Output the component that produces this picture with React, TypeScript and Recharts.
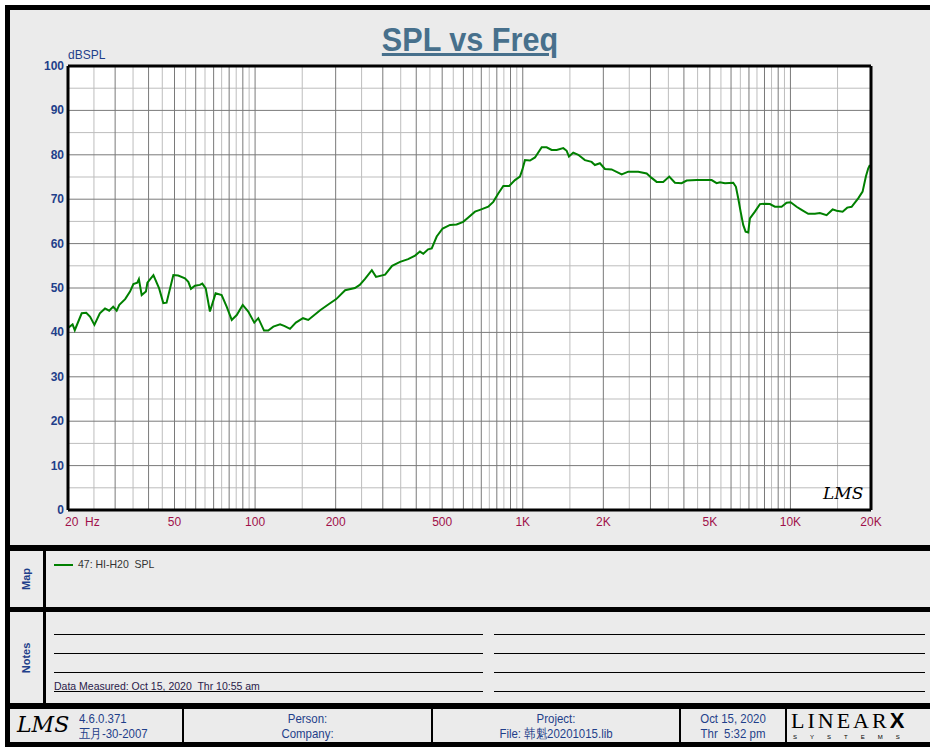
import React from 'react';
import { LineChart, Line, XAxis, YAxis, CartesianGrid, ReferenceLine } from 'recharts';

const freqHz = [
    20, 20.8, 21.2, 22.5, 23.4, 24.2, 25.1, 26.3, 27.5, 28.5, 29.5, 30.4, 31.1, 32.7, 34.1, 35.1,
    36.3, 36.8, 37.7, 39.1, 39.6, 41.7, 43.8, 45.4, 46.7, 49.5, 51.6, 54.7, 56.3, 57.6, 59.6, 62.2,
    63.5, 65.4, 67.8, 71.2, 75, 78.3, 81.8, 85.4, 89.9, 94.3, 99.3, 102.8, 108, 112, 117, 124,
    129, 135, 142, 151, 158, 175, 190, 201, 217, 236, 246, 257, 273, 283, 306, 325, 348, 373,
    396, 413, 425, 443, 457, 477, 502, 535, 566, 599, 626, 663, 692, 743, 776, 810, 846, 890,
    935, 976, 996, 1019, 1064, 1111, 1177, 1228, 1282, 1339, 1417, 1459, 1488, 1544, 1612, 1707, 1808, 1860,
    1942, 2028, 2148, 2342, 2478, 2700, 2904, 3030, 3164, 3348, 3526, 3703, 3922, 4096, 4462, 5078,
    5300, 5453, 5693, 6114, 6257, 6382, 6515, 6662, 6801, 6955, 7057, 7368, 7692, 8030, 8382, 8750,
    9268, 9676, 10016, 10546, 11009, 11652, 12344, 12887, 13649, 14374, 14878, 15666, 16300, 16926, 17916, 18606,
    19138, 19521, 19812,
];
const splDb = [
    41.0, 41.8, 40.5, 44.3, 44.4, 43.5, 41.7, 44.3, 45.4, 44.9, 45.8, 44.9, 46.2, 47.5, 49.2, 50.9,
    51.2, 52.0, 48.4, 49.2, 51.2, 52.9, 49.9, 46.6, 46.7, 52.9, 52.8, 52.2, 51.4, 49.8, 50.5, 50.7,
    51.0, 49.9, 44.7, 48.8, 48.4, 45.8, 42.8, 43.9, 46.2, 44.7, 42.2, 43.2, 40.4, 40.4, 41.3, 41.8,
    41.4, 40.8, 42.2, 43.2, 42.8, 45.0, 46.5, 47.5, 49.5, 50.0, 50.7, 52.0, 54.0, 52.5, 53.0, 55.0, 55.9, 56.5,
    57.3, 58.2, 57.7, 58.7, 58.9, 61.6, 63.4, 64.2, 64.3, 64.9, 65.9, 67.2, 67.6, 68.3, 69.4, 71.3, 73.0, 73.0,
    74.3, 75.1, 76.6, 78.8, 78.7, 79.4, 81.7, 81.7, 81.1, 81.1, 81.5, 80.9, 79.6, 80.5, 80.0, 78.8, 78.4, 77.7,
    78.1, 76.8, 76.7, 75.6, 76.2, 76.2, 75.8, 74.8, 73.9, 73.9, 75.1, 73.7, 73.6, 74.2, 74.3, 74.3,
    73.6, 73.8, 73.6, 73.7, 72.8, 70.2, 67.2, 64.2, 62.7, 62.5, 65.7, 67.2, 68.9, 69.0, 68.9, 68.3,
    68.3, 69.2, 69.3, 68.3, 67.6, 66.7, 66.7, 66.9, 66.4, 67.7, 67.4, 67.2, 68.1, 68.3, 70.2, 71.7,
    75.1, 76.9, 77.7,
];

const xTicks = [20, 50, 100, 200, 500, 1000, 2000, 5000, 10000, 20000];
const xTickLabels = ['20  Hz', '50', '100', '200', '500', '1K', '2K', '5K', '10K', '20K'];
const yTicks = [0, 10, 20, 30, 40, 50, 60, 70, 80, 90, 100];

const xMajorGrid = [30, 40, 50, 60, 70, 80, 90, 100, 200, 300, 400, 500, 600, 700, 800, 900,
    1000, 2000, 3000, 4000, 5000, 6000, 7000, 8000, 9000, 10000];
const xMinorGrid = [25, 35, 45, 55, 65, 75, 85, 95, 150, 250, 350, 450, 550, 650, 750, 850, 950,
    1500, 2500, 3500, 4500, 5500, 6500, 7500, 8500, 9500, 15000];
const yMajorGrid = [10, 20, 30, 40, 50, 60, 70, 80, 90];
const yMinorGrid = [5, 15, 25, 35, 45, 55, 65, 75, 85, 95];

const curve = freqHz.map((f, i) => ({ f, db: splDb[i] }));

const BLUE = '#1f3f8a';
const NARROW = '"Liberation Sans Narrow", "Liberation Sans", Arial, sans-serif';
const SANS = '"Liberation Sans", Arial, sans-serif';

const XTick = (props: any) => {
    const { x, y, index } = props;
    return (
        <text x={index === 0 ? x - 3 : x} y={y} dy={8} textAnchor={index === 0 ? 'start' : 'middle'}
            fill="#a0104a" fontSize={12} fontFamily={NARROW} style={{ whiteSpace: 'pre' }}>
            {xTickLabels[index]}
        </text>
    );
};

const YTick = (props: any) => {
    const { x, y, payload } = props;
    return (
        <text x={x + 4} y={y} dy={4} textAnchor="end" fill={BLUE} fontSize={12} fontWeight="bold" fontFamily={NARROW}>
            {payload.value}
        </text>
    );
};

const box = (left: number, top: number, width: number, height: number, bg: string) => ({
    position: 'absolute' as const, left, top, width, height, background: bg,
});

const GREY = '#ebebeb';

const footText = (left: number, width: number) => ({
    position: 'absolute' as const, left, top: 711, width, textAlign: 'center' as const, fontFamily: NARROW,
    fontSize: 13, color: BLUE, lineHeight: '15px', whiteSpace: 'pre' as const, transform: 'scaleX(0.88)',
});

export default function App() {
    return (
        <div style={{ position: 'relative', width: 930, height: 752, background: '#fff', overflow: 'hidden' }}>
            <style>{'body{margin:0}'}</style>
            <div style={box(5, 5, 930, 742, '#000')} />
            <div style={box(10, 10, 920, 535, GREY)} />
            {/* map row */}
            <div style={box(10, 551, 33, 56, GREY)} />
            <div style={box(46, 551, 884, 56, GREY)} />
            {/* notes row */}
            <div style={box(10, 612, 33, 91, GREY)} />
            <div style={box(46, 612, 884, 91, GREY)} />
            {/* footer */}
            <div style={box(10, 709, 172, 33, GREY)} />
            <div style={box(184, 709, 247, 33, GREY)} />
            <div style={box(433, 709, 246, 33, GREY)} />
            <div style={box(681, 709, 104, 33, GREY)} />
            <div style={box(787, 709, 143, 33, GREY)} />

            <div style={{ position: 'absolute', left: 0, top: 21, width: 940, textAlign: 'center',
                fontFamily: NARROW, fontWeight: 'bold', fontSize: 34, color: '#47708c', textDecoration: 'underline',
                lineHeight: '36px', transform: 'scaleX(0.9)' }}>
                SPL vs Freq
            </div>
            <div style={{ position: 'absolute', left: 68, top: 48, fontFamily: NARROW, fontSize: 12, color: BLUE }}>
                dBSPL
            </div>

            <div style={{ position: 'absolute', left: 0, top: 0 }}>
                <LineChart width={930} height={545} data={curve} margin={{ top: 66, right: 59, left: 0, bottom: 0 }}>
                    <CartesianGrid horizontal={false} vertical={false} fill="#ffffff" />
                    <XAxis dataKey="f" type="number" scale="log" domain={[20, 20000]} ticks={xTicks}
                        allowDataOverflow axisLine={false} tickLine={false} height={35} tick={<XTick />} interval={0} />
                    <YAxis type="number" domain={[0, 100]} ticks={yTicks} axisLine={false} tickLine={false}
                        width={68} tick={<YTick />} interval={0} />
                    {xMinorGrid.map((v) => (
                        <ReferenceLine key={'xm' + v} x={v} stroke="#bdbdbd" strokeWidth={1} />
                    ))}
                    {yMinorGrid.map((v) => (
                        <ReferenceLine key={'ym' + v} y={v} stroke="#bdbdbd" strokeWidth={1} />
                    ))}
                    {xMajorGrid.map((v) => (
                        <ReferenceLine key={'xM' + v} x={v} stroke="#7a7a7a" strokeWidth={1} />
                    ))}
                    {yMajorGrid.map((v) => (
                        <ReferenceLine key={'yM' + v} y={v} stroke="#7a7a7a" strokeWidth={1} />
                    ))}
                    <Line dataKey="db" type="linear" stroke="#008000" strokeWidth={2} dot={false} isAnimationActive={false} />
                    <ReferenceLine x={20} stroke="#000" strokeWidth={3} />
                    <ReferenceLine x={20000} stroke="#000" strokeWidth={3} />
                    <ReferenceLine y={0} stroke="#000" strokeWidth={3} />
                    <ReferenceLine y={100} stroke="#000" strokeWidth={3} />
                </LineChart>
            </div>

            <div style={{ position: 'absolute', left: 823, top: 483, fontFamily: '"DejaVu Serif", serif',
                fontStyle: 'italic', fontSize: 17, color: '#000', lineHeight: '20px' }}>
                LMS
            </div>

            {/* map legend */}
            <div style={{ position: 'absolute', left: 15, top: 579, transform: 'translate(-50%, -50%) rotate(-90deg)',
                marginLeft: 11, fontFamily: SANS, fontWeight: 'bold', fontSize: 11, color: BLUE }}>Map</div>
            <div style={box(54, 564, 19, 2, '#008000')} />
            <div style={{ position: 'absolute', left: 78, top: 558, fontFamily: SANS, fontSize: 10.5, color: '#333',
                whiteSpace: 'pre' }}>47: HI-H20  SPL</div>

            {/* notes */}
            <div style={{ position: 'absolute', left: 15, top: 658, transform: 'translate(-50%, -50%) rotate(-90deg)',
                marginLeft: 11, fontFamily: SANS, fontWeight: 'bold', fontSize: 11, color: BLUE }}>Notes</div>
            {[634, 653, 672, 691].map((y) => (
                <React.Fragment key={y}>
                    <div style={box(54, y, 429, 1, '#000')} />
                    <div style={box(494, y, 431, 1, '#000')} />
                </React.Fragment>
            ))}
            <div style={{ position: 'absolute', left: 54, top: 680, fontFamily: SANS, fontSize: 10.5, color: '#2a1a4a',
                whiteSpace: 'pre' }}>Data Measured: Oct 15, 2020  Thr 10:55 am</div>

            {/* footer */}
            <div style={{ position: 'absolute', left: 17, top: 710, fontFamily: '"DejaVu Serif", serif',
                fontStyle: 'italic', fontSize: 22, color: '#000', lineHeight: '30px' }}>LMS</div>
            <div style={{ ...footText(79, 80), textAlign: 'left', transformOrigin: 'left center' }}>
                <div>4.6.0.371</div>
                <div>五月-30-2007</div>
            </div>
            <div style={footText(184, 247)}>
                <div>Person:</div>
                <div>Company:</div>
            </div>
            <div style={footText(433, 246)}>
                <div>Project:</div>
                <div>File: 韩魁20201015.lib</div>
            </div>
            <div style={footText(681, 104)}>
                <div>Oct 15, 2020</div>
                <div>Thr  5:32 pm</div>
            </div>
            <div style={{ position: 'absolute', left: 791, top: 709, fontFamily: '"Liberation Serif", serif',
                fontSize: 22, color: '#000', letterSpacing: 3, whiteSpace: 'pre', lineHeight: '24px' }}>
                LINEAR<span style={{ fontFamily: SANS, fontWeight: 'bold' }}>X</span>
            </div>
            <div style={{ position: 'absolute', left: 793, top: 734, fontFamily: SANS, fontSize: 6, color: '#000',
                letterSpacing: 13, whiteSpace: 'pre', lineHeight: '7px' }}>SYSTEMS</div>
        </div>
    );
}
